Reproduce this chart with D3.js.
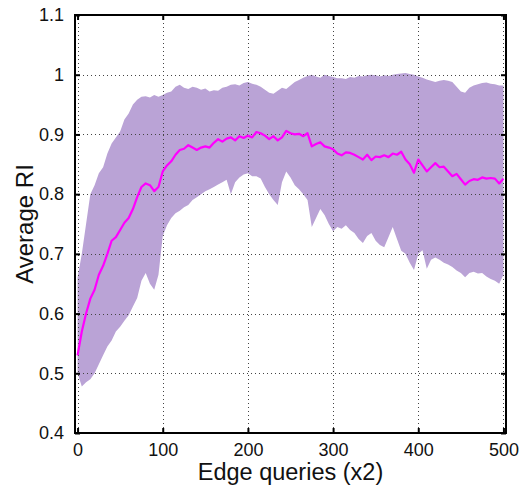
<!DOCTYPE html>
<html>
<head>
<meta charset="utf-8">
<script src="https://cdn.jsdelivr.net/npm/d3@7"></script>
<style>
  body { margin: 0; background: #fff; }
  svg { display: block; }
</style>
</head>
<body>
<div class="chart"></div>
<script>
(function () {
    'use strict';

    // queries sampled every 5 (x2)
    const queries = d3.range(0, 501, 5);

    const meanRI = [
        0.530, 0.570, 0.600, 0.625, 0.640, 0.665, 0.680, 0.700, 0.722, 0.728,
        0.740, 0.752, 0.760, 0.775, 0.795, 0.812, 0.818, 0.815, 0.805, 0.812,
        0.838, 0.848, 0.855, 0.866, 0.874, 0.876, 0.882, 0.878, 0.874, 0.878,
        0.880, 0.878, 0.886, 0.892, 0.888, 0.893, 0.895, 0.890, 0.897, 0.894,
        0.898, 0.895, 0.904, 0.902, 0.898, 0.892, 0.897, 0.890, 0.895, 0.906,
        0.902, 0.900, 0.901, 0.897, 0.902, 0.880, 0.884, 0.887, 0.880, 0.878,
        0.875, 0.868, 0.865, 0.870, 0.869, 0.866, 0.862, 0.858, 0.866, 0.857,
        0.863, 0.862, 0.865, 0.862, 0.868, 0.866, 0.871, 0.858, 0.850, 0.836,
        0.858, 0.848, 0.838, 0.845, 0.852, 0.845, 0.846, 0.838, 0.830, 0.834,
        0.825, 0.816, 0.822, 0.825, 0.824, 0.828, 0.826, 0.827, 0.826, 0.818,
        0.826
    ];

    const upperRI = [
        0.660, 0.700, 0.750, 0.800, 0.815, 0.835, 0.845, 0.868, 0.885, 0.895,
        0.905, 0.925, 0.935, 0.950, 0.958, 0.963, 0.964, 0.962, 0.966, 0.963,
        0.966, 0.970, 0.972, 0.980, 0.983, 0.978, 0.976, 0.980, 0.978, 0.975,
        0.977, 0.972, 0.974, 0.973, 0.978, 0.980, 0.983, 0.984, 0.982, 0.986,
        0.988, 0.985, 0.983, 0.980, 0.975, 0.970, 0.968, 0.973, 0.978, 0.976,
        0.982, 0.988, 0.991, 0.995, 0.998, 1.000, 0.997, 0.995, 1.000, 0.998,
        0.996, 0.994, 0.994, 0.993, 0.996, 0.995, 0.998, 0.997, 0.999, 1.000,
        0.999, 0.997, 0.999, 0.998, 1.000, 1.001, 1.002, 1.003, 1.001, 1.000,
        0.997, 0.995, 0.992, 0.990, 0.988, 0.990, 0.991, 0.990, 0.988, 0.980,
        0.972, 0.970, 0.978, 0.982, 0.984, 0.986, 0.987, 0.985, 0.984, 0.982,
        0.982
    ];

    const lowerRI = [
        0.500, 0.478, 0.485, 0.490, 0.500, 0.515, 0.530, 0.545, 0.555, 0.570,
        0.578, 0.588, 0.597, 0.612, 0.626, 0.655, 0.668, 0.650, 0.640, 0.665,
        0.730, 0.748, 0.760, 0.768, 0.772, 0.778, 0.782, 0.790, 0.795, 0.800,
        0.805, 0.808, 0.812, 0.816, 0.820, 0.824, 0.800, 0.820, 0.828, 0.833,
        0.835, 0.830, 0.830, 0.826, 0.812, 0.800, 0.790, 0.782, 0.820, 0.838,
        0.828, 0.815, 0.808, 0.800, 0.790, 0.745, 0.760, 0.775, 0.765, 0.750,
        0.738, 0.745, 0.742, 0.748, 0.740, 0.735, 0.725, 0.718, 0.730, 0.735,
        0.722, 0.715, 0.711, 0.728, 0.745, 0.725, 0.705, 0.700, 0.685, 0.673,
        0.700, 0.706, 0.675, 0.690, 0.694, 0.690, 0.685, 0.682, 0.678, 0.672,
        0.668, 0.661, 0.668, 0.670, 0.667, 0.668, 0.662, 0.658, 0.655, 0.650,
        0.665
    ];

    const xTicks = [0, 100, 200, 300, 400, 500];
    const yTicks = [0.4, 0.5, 0.6, 0.7, 0.8, 0.9, 1.0, 1.1];

    const W = 522, H = 489;
    const margin = { top: 15, left: 75, right: 16, bottom: 56 };
    const width = W - margin.left - margin.right;
    const height = H - margin.top - margin.bottom;

    const data = queries.map(function (q, i) {
        return { q: q, mean: meanRI[i], lo: lowerRI[i], hi: upperRI[i] };
    });

    const svg = d3.select('.chart').append('svg')
        .attr('width', W).attr('height', H)
        .style('font-family', '"Liberation Sans", Arial, Helvetica, sans-serif');

    const g = svg.append('g')
        .attr('transform', 'translate(' + margin.left + ',' + margin.top + ')');

    const x = d3.scaleLinear().domain([-3, 503]).range([0, width]);
    const y = d3.scaleLinear().domain([0.4, 1.1]).range([height, 0]);

    // band
    g.append('path').datum(data)
        .attr('fill', '#baa3d6')
        .attr('d', d3.area()
            .x(function (d) { return x(d.q); })
            .y0(function (d) { return y(d.lo); })
            .y1(function (d) { return y(d.hi); }));

    // dotted grid
    const grid = g.append('g').attr('class', 'grid')
        .attr('stroke', '#444').attr('stroke-width', 1)
        .attr('stroke-dasharray', '1,3');

    grid.selectAll('line.gx').data(xTicks).enter().append('line')
        .attr('x1', function (d) { return Math.round(x(d)) + 0.5; })
        .attr('x2', function (d) { return Math.round(x(d)) + 0.5; })
        .attr('y1', 0).attr('y2', height);

    grid.selectAll('line.gy').data(yTicks).enter().append('line')
        .attr('y1', function (d) { return Math.round(y(d)) + 0.5; })
        .attr('y2', function (d) { return Math.round(y(d)) + 0.5; })
        .attr('x1', 0).attr('x2', width);

    // mean line
    g.append('path').datum(data)
        .attr('fill', 'none')
        .attr('stroke', '#ff00ff')
        .attr('stroke-width', 2.2)
        .attr('stroke-linejoin', 'round')
        .attr('d', d3.line()
            .x(function (d) { return x(d.q); })
            .y(function (d) { return y(d.mean); }));

    // axes, ticks drawn inward on all four sides
    const fmtY = function (d) { return d === 1 ? '1' : d3.format('.1f')(d); };

    const axisBottom = g.append('g')
        .attr('transform', 'translate(0,' + height + ')')
        .call(d3.axisBottom(x).tickValues(xTicks).tickSizeInner(-5).tickSizeOuter(0).tickPadding(10));
    const axisTop = g.append('g')
        .call(d3.axisTop(x).tickValues(xTicks).tickSizeInner(-5).tickSizeOuter(0).tickFormat(''));
    const axisLeft = g.append('g')
        .call(d3.axisLeft(y).tickValues(yTicks).tickSizeInner(-5).tickSizeOuter(0).tickPadding(11).tickFormat(fmtY));
    const axisRight = g.append('g')
        .attr('transform', 'translate(' + width + ',0)')
        .call(d3.axisRight(y).tickValues(yTicks).tickSizeInner(-5).tickSizeOuter(0).tickFormat(''));

    [axisBottom, axisTop, axisLeft, axisRight].forEach(function (a) {
        a.select('.domain').remove();
        a.selectAll('.tick line').attr('stroke', '#000').attr('stroke-width', 2);
        a.selectAll('.tick text')
            .attr('fill', '#111')
            .style('font-size', '18px')
            .style('font-family', '"Liberation Sans", Arial, Helvetica, sans-serif');
    });

    // box
    g.append('rect')
        .attr('x', 0).attr('y', 0)
        .attr('width', width).attr('height', height)
        .attr('fill', 'none')
        .attr('stroke', '#000')
        .attr('stroke-width', 2);

    // labels
    svg.append('text')
        .attr('x', margin.left + x(250))
        .attr('y', 480)
        .attr('text-anchor', 'middle')
        .style('font-size', '23.5px')
        .attr('fill', '#111')
        .text('Edge queries (x2)');

    svg.append('text')
        .attr('transform', 'translate(33,' + (margin.top + y(0.75)) + ') rotate(-90)')
        .attr('text-anchor', 'middle')
        .style('font-size', '24px')
        .attr('fill', '#111')
        .text('Average RI');
})();
</script>
</body>
</html>
